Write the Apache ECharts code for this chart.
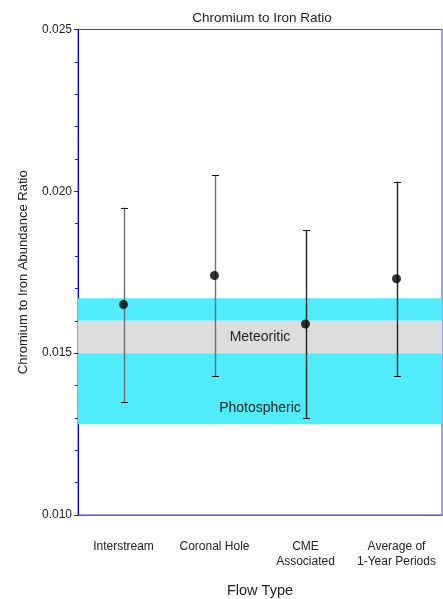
<!DOCTYPE html>
<html>
<head>
<meta charset="utf-8">
<script src="https://cdn.jsdelivr.net/npm/echarts@6/dist/echarts.min.js"></script>
<style>
html,body{margin:0;padding:0;background:#fff;}
#chart{width:443px;height:599px;}
</style>
</head>
<body>
<div id="chart"></div>
<script>
const categories = ['Interstream', 'Coronal Hole', 'CME\nAssociated', 'Average of\n1-Year Periods'];
const ratio = [0.0165, 0.0174, 0.0159, 0.0173];
const errLow = [0.0135, 0.0143, 0.0130, 0.0143];
const errHigh = [0.0195, 0.0205, 0.0188, 0.0203];
const meteoriticBand = [0.015, 0.016];
const photosphericBand = [0.0128, 0.0167];
const yMin = 0.010, yMax = 0.025, yInterval = 0.005;

const chart = echarts.init(document.getElementById('chart'));
const errData = categories.map((c, i) => [i, errLow[i], errHigh[i]]);
const font = 'Liberation Sans, Arial, sans-serif';
const barColors = ['#6e6e6e', '#6e6e6e', '#222', '#222'];

chart.setOption({
  animation: false,
  backgroundColor: '#fff',
  textStyle: {fontFamily: font},
  title: {
    text: 'Chromium to Iron Ratio',
    left: 257, top: 6, textAlign: 'center',
    textStyle: {fontSize: 13.5, fontWeight: 'normal', color: '#222', fontFamily: font}
  },
  grid: {left: 78, right: 1, top: 29.5, bottom: 84, show: true, borderColor: '#3c3ce6', borderWidth: 1,
         containLabel: false, outerBoundsMode: 'none'},
  xAxis: {
    type: 'category', data: categories, boundaryGap: true,
    name: 'Flow Type', nameLocation: 'middle', nameGap: 68,
    nameTextStyle: {fontSize: 14.5, color: '#222', fontFamily: font},
    axisLine: {lineStyle: {color: '#5a5aee', width: 1}},
    axisTick: {alignWithLabel: true, length: 3, lineStyle: {color: '#5a5aee'}},
    axisLabel: {interval: 0, fontSize: 12, color: '#222', margin: 24, lineHeight: 15, verticalAlign: 'top', fontFamily: font},
    splitLine: {show: false}
  },
  yAxis: {
    type: 'value', min: yMin, max: yMax, interval: yInterval,
    name: 'Chromium to Iron Abundance Ratio', nameLocation: 'middle', nameGap: 48,
    nameTextStyle: {fontSize: 13, color: '#222', fontFamily: font},
    axisLine: {show: true, lineStyle: {color: '#0000e6', width: 1}},
    axisTick: {show: true, length: 4, lineStyle: {color: '#2020c0'}},
    minorTick: {show: true, splitNumber: 5, length: 3, lineStyle: {color: '#2020c0'}},
    axisLabel: {fontSize: 12, color: '#222', margin: 6, formatter: v => v.toFixed(3), fontFamily: font},
    splitLine: {show: false}
  },
  series: [
    {
      type: 'line', data: [], z: 1, silent: true,
      markArea: {
        silent: true,
        data: [
          [{yAxis: meteoriticBand[1], itemStyle: {color: '#50ecfc'}}, {yAxis: photosphericBand[1]}],
          [{yAxis: meteoriticBand[0], itemStyle: {color: '#dcdddd'},
            label: {show: true, position: 'inside', formatter: 'Meteoritic', fontSize: 14, color: '#222', fontFamily: font}},
           {yAxis: meteoriticBand[1]}],
          [{yAxis: photosphericBand[0], itemStyle: {color: '#50ecfc'},
            label: {show: true, position: 'insideBottom', distance: 9, formatter: 'Photospheric', fontSize: 14, color: '#222', fontFamily: font}},
           {yAxis: meteoriticBand[0]}]
        ]
      }
    },
    {
      type: 'custom', z: 5, silent: true,
      data: errData,
      encode: {x: 0, y: [1, 2]},
      renderItem: function (params, api) {
        const lo = api.coord([api.value(0), api.value(1)]);
        const hi = api.coord([api.value(0), api.value(2)]);
        const x = Math.round(lo[0]) + 0.5;
        const hw = 3.5;
        const c = barColors[params.dataIndex];
        const capStyle = {stroke: '#111', lineWidth: 1};
        return {
          type: 'group',
          children: [
            {type: 'line', shape: {x1: x, y1: hi[1], x2: x, y2: lo[1]}, style: {stroke: c, lineWidth: 1.4}},
            {type: 'line', shape: {x1: x - hw, y1: Math.round(hi[1]) + 0.5, x2: x + hw, y2: Math.round(hi[1]) + 0.5}, style: capStyle},
            {type: 'line', shape: {x1: x - hw, y1: Math.round(lo[1]) + 0.5, x2: x + hw, y2: Math.round(lo[1]) + 0.5}, style: capStyle}
          ]
        };
      }
    },
    {
      type: 'scatter', z: 6, silent: true,
      data: ratio, symbol: 'circle', symbolSize: 9,
      itemStyle: {color: '#000'}
    }
  ]
});
</script>
</body>
</html>
